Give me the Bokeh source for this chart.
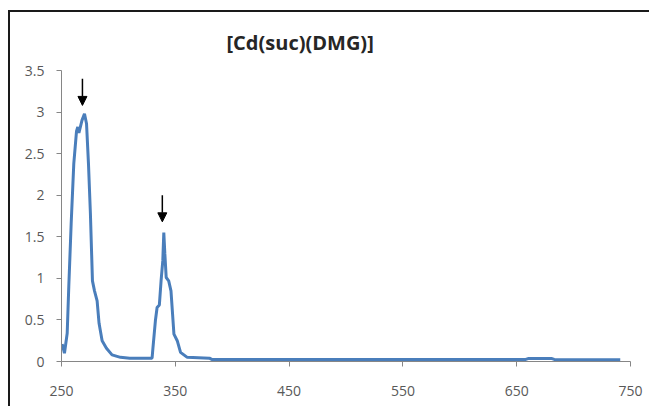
from bokeh.plotting import figure
from bokeh.models import Range1d, Arrow, NormalHead, FixedTicker
from bokeh.embed import file_html
from bokeh.resources import INLINE

title_text = "[Cd(suc)(DMG)]"
wavelength = [250.6, 252.6, 255, 256.4, 258.5, 260.8, 263.2, 264.3, 265.3, 268, 270.2, 272, 273.7,
              275.4, 277.2, 279, 281.3, 283, 285.7, 289.5, 294.4, 301.8, 310, 329.6,
              330.4, 332.5, 334, 336, 337.5, 339, 339.9, 340.8, 342, 344.2, 346.2, 347.6,
              348.8, 351.7, 354.6, 360.5, 380, 382, 500, 658, 660, 681, 683, 741]
absorbance = [0.21, 0.1, 0.34, 0.9, 1.66, 2.38, 2.77, 2.82, 2.75, 2.9, 2.98, 2.86, 2.38,
              1.78, 0.97, 0.85, 0.73, 0.46, 0.25, 0.16, 0.08, 0.05, 0.04, 0.04,
              0.17, 0.49, 0.65, 0.68, 0.97, 1.21, 1.55, 1.3, 1.01, 0.97, 0.85, 0.57,
              0.33, 0.25, 0.11, 0.05, 0.04, 0.025, 0.025, 0.025, 0.035, 0.035, 0.025, 0.02]
x_ticks = [250, 350, 450, 550, 650, 750]
y_ticks = [0, 0.5, 1, 1.5, 2, 2.5, 3, 3.5]
arrow_x = [268.4, 338.6]
arrow_y_start = [3.40, 2.00]
arrow_y_end = [3.08, 1.68]

BL, BT = 10, 12
p = figure(width=651 - BL, height=408 - BT, output_backend="svg", toolbar_location=None,
           x_range=Range1d(250, 750), y_range=Range1d(0, 3.5),
           min_border_left=61 - BL, min_border_right=21, min_border_top=70 - BT, min_border_bottom=47)
p.margin = (BT - 2, 0, 0, BL - 2)
p.styles = {"border-left": "2px solid #1a1a1a", "border-top": "2px solid #1a1a1a"}
p.outline_line_color = None
p.xgrid.visible = False
p.ygrid.visible = False

p.title.text = title_text
p.title.align = "left"
p.title.offset = 165
p.title.standoff = 29
p.title.text_font = "Open Sans"
p.title.text_font_style = "bold"
p.title.text_font_size = "20px"
p.title.text_color = "#262626"

p.line(wavelength, absorbance, line_color="#4a7ebb", line_width=3)

for xa, y0, y1 in zip(arrow_x, arrow_y_start, arrow_y_end):
    p.add_layout(Arrow(end=NormalHead(size=9, fill_color="black", line_color="black"),
                       x_start=xa, y_start=y0, x_end=xa, y_end=y1,
                       line_color="black", line_width=1.5))

for ax in (p.xaxis, p.yaxis):
    ax.axis_line_color = "#868686"
    ax.major_tick_line_color = "#868686"
    ax.minor_tick_line_color = None
    ax.major_tick_in = 0
    ax.major_tick_out = 5
    ax.major_label_text_color = "#595959"
    ax.major_label_text_font = "Open Sans"
    ax.major_label_text_font_size = "14px"
p.xaxis.ticker = FixedTicker(ticks=x_ticks)
p.yaxis.ticker = FixedTicker(ticks=y_ticks)
p.xaxis.major_label_standoff = 19
p.yaxis.major_label_standoff = 12

open("out.html", "w").write(file_html(p, INLINE))
